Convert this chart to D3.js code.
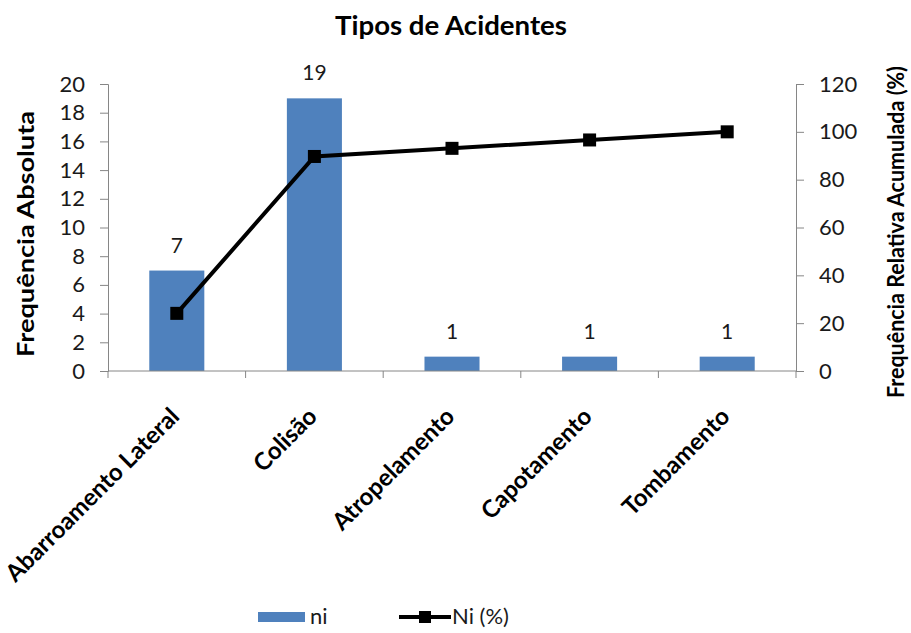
<!DOCTYPE html>
<html>
<head>
<meta charset="utf-8">
<script src="https://cdn.jsdelivr.net/npm/d3@7/dist/d3.min.js"></script>
<style>
  html, body { margin: 0; padding: 0; background: #fff; }
  svg { display: block; font-family: Lato, "Open Sans", "DejaVu Sans", sans-serif; }
</style>
</head>
<body>
<svg id="chart" width="911" height="633"></svg>
<script>
// Accident types and counts
const categories = ["Abarroamento Lateral", "Colisão", "Atropelamento", "Capotamento", "Tombamento"];
const ni = [7, 19, 1, 1, 1];
// Cumulative relative frequency (%)
const niPct = [24.1, 89.7, 93.1, 96.6, 100];
const leftTicks = [0, 2, 4, 6, 8, 10, 12, 14, 16, 18, 20];
const rightTicks = [0, 20, 40, 60, 80, 100, 120];

const svg = d3.select("#chart");
const plot = { left: 108, right: 796, top: 84, bottom: 371 };
const axisColor = "#868686";
const textColor = "#1a1a1a";

const x = d3.scaleBand().domain(categories).range([plot.left, plot.right]);
const yL = d3.scaleLinear().domain([0, 20]).range([plot.bottom, plot.top]);
const yR = d3.scaleLinear().domain([0, 120]).range([plot.bottom, plot.top]);
const cx = d => x(d) + x.bandwidth() / 2;

// Bars
const barW = x.bandwidth() * 0.4;
svg.append("g").selectAll("rect").data(categories).join("rect")
  .attr("x", d => cx(d) - barW / 2)
  .attr("y", (d, i) => yL(ni[i]))
  .attr("width", barW)
  .attr("height", (d, i) => yL(0) - yL(ni[i]))
  .attr("fill", "#4f81bd");

// Bar value labels
svg.append("g").selectAll("text").data(categories).join("text")
  .attr("x", d => cx(d))
  .attr("y", (d, i) => yL(ni[i]) - 18)
  .attr("text-anchor", "middle")
  .attr("font-size", 21)
  .attr("fill", textColor)
  .text((d, i) => ni[i]);

// Left axis
const gL = svg.append("g").attr("transform", `translate(${plot.left},0)`)
  .call(d3.axisLeft(yL).tickValues(leftTicks).tickSize(8).tickPadding(15));
// Right axis
const gR = svg.append("g").attr("transform", `translate(${plot.right},0)`)
  .call(d3.axisRight(yR).tickValues(rightTicks).tickSize(8).tickPadding(15));
// Bottom axis with ticks at category boundaries
const gB = svg.append("g").attr("transform", `translate(0,${plot.bottom})`);
gB.append("line").attr("x1", plot.left).attr("x2", plot.right)
  .attr("stroke", axisColor);
gB.selectAll("line.tk").data(d3.range(categories.length + 1)).join("line")
  .attr("class", "tk")
  .attr("x1", i => plot.left + i * x.step())
  .attr("x2", i => plot.left + i * x.step())
  .attr("y1", 0).attr("y2", 7)
  .attr("stroke", axisColor);

[gL, gR].forEach(g => {
  g.select(".domain").attr("stroke", axisColor);
  g.selectAll(".tick line").attr("stroke", axisColor);
  g.selectAll(".tick text").attr("font-size", 22).attr("fill", textColor)
    .attr("font-family", "Lato, 'Open Sans', sans-serif");
});

// Category labels, rotated
svg.append("g").selectAll("text").data(categories).join("text")
  .attr("transform", d => `translate(${cx(d) + 4},${plot.bottom + 47}) rotate(-45)`)
  .attr("text-anchor", "end")
  .attr("font-size", 24)
  .attr("font-weight", "bold")
  .attr("fill", "#000")
  .text(d => d);

// Cumulative line
const line = d3.line()
  .x((d, i) => cx(categories[i]))
  .y(d => yR(d));
svg.append("path").datum(niPct)
  .attr("d", line)
  .attr("fill", "none")
  .attr("stroke", "#000")
  .attr("stroke-width", 4);
svg.append("g").selectAll("rect").data(niPct).join("rect")
  .attr("x", (d, i) => cx(categories[i]) - 6.5)
  .attr("y", d => yR(d) - 6.5)
  .attr("width", 13).attr("height", 13)
  .attr("fill", "#000");

// Title
svg.append("text")
  .attr("x", 451).attr("y", 35)
  .attr("text-anchor", "middle")
  .attr("font-size", 26)
  .attr("font-weight", "bold")
  .attr("textLength", 232)
  .attr("lengthAdjust", "spacingAndGlyphs")
  .text("Tipos de Acidentes");

// Axis titles
svg.append("text")
  .attr("transform", `translate(34,234) rotate(-90)`)
  .attr("text-anchor", "middle")
  .attr("font-size", 23)
  .attr("font-weight", "bold")
  .attr("textLength", 246)
  .attr("lengthAdjust", "spacingAndGlyphs")
  .attr("fill", "#000")
  .text("Frequência Absoluta");
svg.append("text")
  .attr("transform", `translate(904,232) rotate(-90)`)
  .attr("text-anchor", "middle")
  .attr("font-size", 23)
  .attr("font-weight", "bold")
  .attr("textLength", 332)
  .attr("lengthAdjust", "spacingAndGlyphs")
  .attr("fill", "#000")
  .text("Frequência Relativa Acumulada (%)");

// Legend
const lg = svg.append("g");
lg.append("rect").attr("x", 258).attr("y", 612).attr("width", 47).attr("height", 10).attr("fill", "#4f81bd");
lg.append("text").attr("x", 310).attr("y", 624).attr("font-size", 22).attr("fill", textColor).text("ni");
lg.append("line").attr("x1", 399).attr("x2", 451).attr("y1", 617).attr("y2", 617)
  .attr("stroke", "#000").attr("stroke-width", 4);
lg.append("rect").attr("x", 419).attr("y", 611).attr("width", 12).attr("height", 12).attr("fill", "#000");
lg.append("text").attr("x", 452).attr("y", 624).attr("font-size", 22).attr("fill", textColor).text("Ni (%)");
</script>
</body>
</html>
